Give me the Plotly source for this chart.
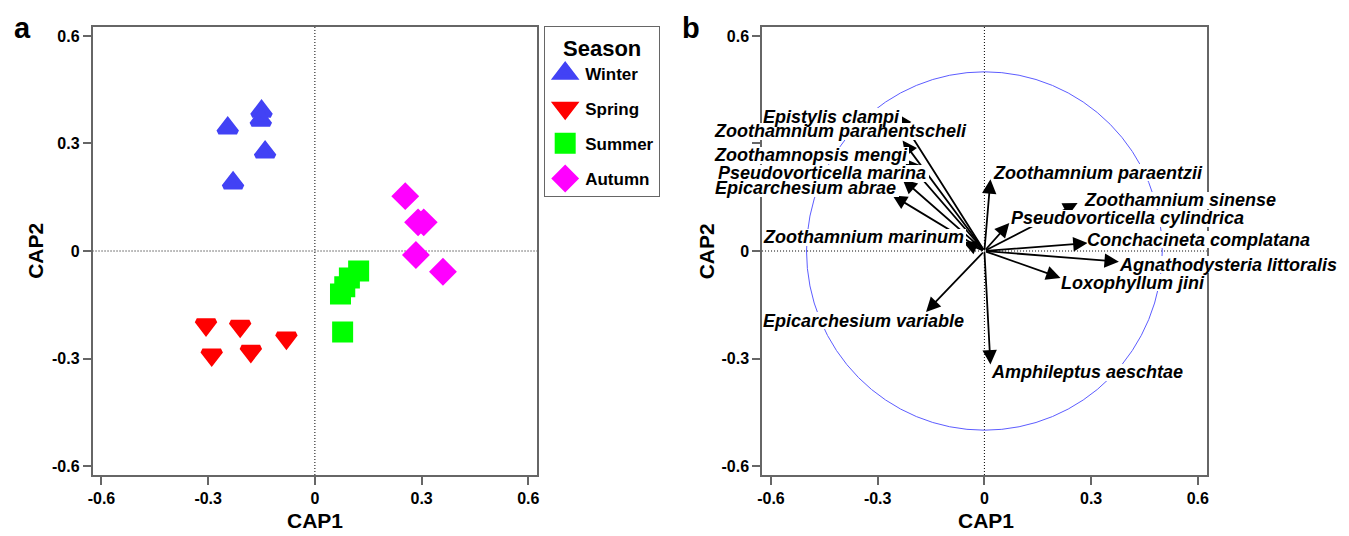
import plotly.graph_objects as go

# ---------------- data ----------------
# Panel a: CAP scores by season
winter_x = [-0.245, -0.150, -0.152, -0.140, -0.230]
winter_y = [0.343, 0.390, 0.365, 0.276, 0.190]
spring_x = [-0.306, -0.210, -0.290, -0.180, -0.080]
spring_y = [-0.206, -0.210, -0.290, -0.280, -0.243]
summer_x = [0.123, 0.097, 0.084, 0.072, 0.078]
summer_y = [-0.056, -0.075, -0.100, -0.120, -0.226]
autumn_x = [0.254, 0.290, 0.306, 0.284, 0.360]
autumn_y = [0.153, 0.080, 0.080, -0.011, -0.058]

# Panel b: species vectors (CAP1, CAP2 correlations)
species = [
    "Epistylis clampi", "Zoothamnium parahentscheli", "Zoothamnopsis mengi",
    "Pseudovorticella marina", "Epicarchesium abrae", "Zoothamnium marinum",
    "Zoothamnium paraentzii", "Zoothamnium sinense", "Pseudovorticella cylindrica",
    "Conchacineta complatana", "Agnathodysteria littoralis", "Loxophyllum jini",
    "Epicarchesium variable", "Amphileptus aeschtae",
]
vec_x = [-0.244, -0.230, -0.225, -0.230, -0.258, -0.060,
         0.017, 0.262, 0.070, 0.290, 0.378, 0.214, -0.164, 0.017]
vec_y = [0.383, 0.308, 0.258, 0.200, 0.155, 0.025,
         0.200, 0.134, 0.078, 0.022, -0.030, -0.075, -0.170, -0.317]

tick_vals = [-0.6, -0.3, 0, 0.3, 0.6]
tick_text = ["-0.6", "-0.3", "0", "0.3", "0.6"]
# panel b's y label at 0.3 is hidden behind the species labels in the reference
tick_text_b_y = ["-0.6", "-0.3", "0", "", "0.6"]

# label placement (left edge x, centre y) in panel-b data units
label_x = [-0.622, -0.761, -0.761, -0.750, -0.758, -0.622,
           0.025, 0.280, 0.075, 0.289, 0.378, 0.214, -0.622, 0.019]
label_y = [0.374, 0.334, 0.267, 0.217, 0.175, 0.039,
           0.219, 0.141, 0.091, 0.031, -0.039, -0.089, -0.194, -0.339]

# ---------------- figure ----------------
W, H = 1349, 536
FONT = "Arial, Liberation Sans, sans-serif"
AX = "#666666"
RNG = [-0.625, 0.625]
XA = [88, 535]      # panel a plot area (px)
XB = [761, 1208]    # panel b plot area (px)
YP = [27, 475]
LBL = 18            # label font size

# Arial Bold advance widths (per 1000 em) for sizing label backgrounds
AW = {" ": 278, "a": 556, "b": 611, "c": 556, "d": 611, "e": 556, "f": 333, "g": 611,
      "h": 611, "i": 278, "j": 278, "k": 556, "l": 278, "m": 889, "n": 611, "o": 611,
      "p": 611, "q": 611, "r": 389, "s": 556, "t": 333, "u": 611, "v": 556, "w": 778,
      "x": 556, "y": 556, "z": 500, "A": 722, "C": 722, "E": 667, "L": 611, "P": 667,
      "Z": 611}

def text_w(s, size):
    return sum(AW.get(c, 600) for c in s) / 1000 * size

fig = go.Figure()

seasons = [
    ("Winter", winter_x, winter_y, "triangle-up", "#4242f5"),
    ("Spring", spring_x, spring_y, "triangle-down", "#ff0000"),
    ("Summer", summer_x, summer_y, "square", "#00ff00"),
    ("Autumn", autumn_x, autumn_y, "diamond", "#ff00ff"),
]
for name, xs, ys, sym, col in seasons:
    fig.add_trace(go.Scatter(
        x=xs, y=ys, mode="markers", name=f"<b>{name}</b>", legendgroup=name,
        marker=dict(symbol=sym, size=16, color=col, line=dict(color=col, width=5)),
        xaxis="x", yaxis="y",
    ))

fig.add_trace(go.Scatter(x=vec_x, y=vec_y, mode="markers", marker=dict(opacity=0),
                         showlegend=False, hoverinfo="skip", xaxis="x2", yaxis="y2"))

def axis(domain, anchor, labels):
    return dict(
        domain=domain, anchor=anchor, range=RNG,
        tickmode="array", tickvals=tick_vals,
        ticktext=[f"<b>{t}</b>" if t else "" for t in labels],
        tickfont=dict(family=FONT, size=16, color="black"),
        ticks="outside", ticklen=8, tickwidth=1.5, tickcolor=AX,
        showline=True, linecolor=AX, linewidth=1.5, mirror=True,
        showgrid=False, zeroline=False, fixedrange=True,
    )

ydom = [1 - YP[1] / H, 1 - YP[0] / H]
fig.update_layout(
    width=W, height=H,
    margin=dict(l=0, r=0, t=0, b=0),
    paper_bgcolor="white", plot_bgcolor="white",
    font=dict(family=FONT, color="black"),
    xaxis=axis([XA[0] / W, XA[1] / W], "y", tick_text),
    yaxis=axis(ydom, "x", tick_text),
    xaxis2=axis([XB[0] / W, XB[1] / W], "y2", tick_text),
    yaxis2=axis(ydom, "x2", tick_text_b_y),
    showlegend=True,
    legend=dict(
        x=542 / W, y=1 - 26 / H, xanchor="left", yanchor="top",
        title=dict(text="<b>Season</b>", side="top center", font=dict(size=22, family=FONT)),
        font=dict(size=17, family=FONT, color="black"),
        bordercolor=AX, borderwidth=1, bgcolor="white",
        tracegroupgap=10, itemsizing="trace",
    ),
)

DOT = dict(color="black", width=1, dash="1px,2px")
shapes = []
for xr, yr in (("x", "y"), ("x2", "y2")):
    shapes.append(dict(type="line", xref=f"{xr} domain", x0=0, x1=1, yref=yr, y0=0, y1=0,
                       line=DOT, layer="below"))
    shapes.append(dict(type="line", xref=xr, x0=0, x1=0, yref=f"{yr} domain", y0=0, y1=1,
                       line=DOT, layer="below"))
shapes.append(dict(type="circle", xref="x2", yref="y2", x0=-0.5, x1=0.5, y0=-0.5, y1=0.5,
                   line=dict(color="#5c5cff", width=1), layer="below"))
fig.update_layout(shapes=shapes)

def bx(v):  # panel b data x -> paper
    return (XB[0] + (v - RNG[0]) / (RNG[1] - RNG[0]) * (XB[1] - XB[0])) / W

def by(v):  # panel b data y -> paper
    return 1 - (YP[0] + (RNG[1] - v) / (RNG[1] - RNG[0]) * (YP[1] - YP[0])) / H

ann = []
# arrows from origin
for vx, vy in zip(vec_x, vec_y):
    ann.append(dict(x=vx, y=vy, xref="x2", yref="y2", ax=0, ay=0, axref="x2", ayref="y2",
                    text="", showarrow=True, arrowhead=2, arrowsize=1.6, arrowwidth=1.8,
                    arrowcolor="black"))
# white backing boxes behind labels (hide lines beneath the text)
for s, lx, ly in zip(species, label_x, label_y):
    ann.append(dict(x=bx(lx), y=by(ly), xref="paper", yref="paper", text=" ",
                    showarrow=False, xanchor="left", yanchor="middle",
                    width=text_w(s, LBL) + 3, height=int(LBL * 0.95),
                    bgcolor="white", borderpad=0, borderwidth=0,
                    font=dict(size=6)))
# label text
for s, lx, ly in zip(species, label_x, label_y):
    ann.append(dict(x=bx(lx), y=by(ly), xref="paper", yref="paper", text=f"<b><i>{s}</i></b>",
                    showarrow=False, xanchor="left", yanchor="middle",
                    font=dict(size=LBL, family=FONT, color="black"),
                    borderpad=0, borderwidth=0))
for cx, cyl in ((312, 30), (986, 705)):
    ann.append(dict(x=cx / W, y=1 - 520 / H, xref="paper", yref="paper", text="<b>CAP1</b>",
                    showarrow=False, xanchor="center", yanchor="middle",
                    font=dict(size=21, family=FONT)))
    ann.append(dict(x=cyl / W, y=1 - 251 / H, xref="paper", yref="paper", text="<b>CAP2</b>",
                    showarrow=False, xanchor="center", yanchor="middle", textangle=-90,
                    font=dict(size=21, family=FONT)))
ann.append(dict(x=18 / W, y=1 - 28 / H, xref="paper", yref="paper", text="<b>a</b>",
                showarrow=False, xanchor="center", yanchor="middle", font=dict(size=29, family=FONT)))
ann.append(dict(x=690 / W, y=1 - 28 / H, xref="paper", yref="paper", text="<b>b</b>",
                showarrow=False, xanchor="center", yanchor="middle", font=dict(size=29, family=FONT)))
fig.update_layout(annotations=ann)

fig.write_html("out.html")
